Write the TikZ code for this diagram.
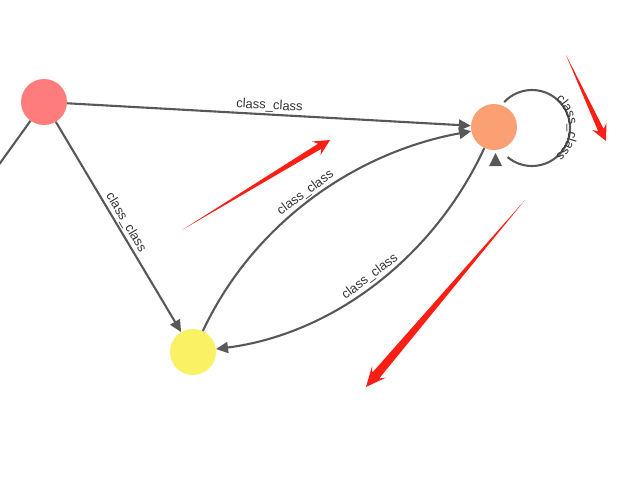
\documentclass[tikz,border=0pt]{standalone}
\usepackage{fontspec}
\setmainfont{Liberation Sans}
\usetikzlibrary{arrows.meta,calc,decorations.text}
\definecolor{edgec}{RGB}{88,88,88}
\definecolor{labc}{RGB}{51,51,51}
\definecolor{pinkc}{RGB}{255,124,124}
\definecolor{orangec}{RGB}{251,160,114}
\definecolor{yellowc}{RGB}{250,242,100}
\definecolor{annred}{RGB}{250,30,20}
\newcommand\labfont{\fontsize{13}{13}\selectfont}
% tail, tip, head length, notch length, head half width, body half width
\newcommand\taperarrow[6]{%
  \coordinate (tT) at #1;
  \coordinate (tH) at #2;
  \coordinate (tB) at ($(tH)!#3!(tT)$);
  \coordinate (tN) at ($(tH)!#4!(tT)$);
  \fill[annred] (tT) -- ($(tN)!#6!90:(tH)$) -- ($(tB)!#5!90:(tH)$) -- (tH)
    -- ($(tB)!#5!-90:(tH)$) -- ($(tN)!#6!-90:(tH)$) -- cycle;
}
\begin{document}
\begin{tikzpicture}[x=1pt,y=1pt,
  nodec/.style={circle, minimum size=46pt, inner sep=0pt, draw=none},
  edge/.style={draw=edgec, line width=2.1pt, -{Triangle[length=12pt,width=11pt]}},
  lab/.style={font=\labfont, text=labc, sloped, above, inner sep=1.5pt, midway}]
\path[use as bounding box] (0,0) rectangle (643,-480);
\clip (0,0) rectangle (643,-480);
\node[nodec, fill=pinkc] (A) at (44,-102) {};
\node[nodec, fill=orangec] (B) at (494,-127) {};
\node[nodec, fill=yellowc] (C) at (193,-352) {};
\coordinate (off) at (-20,-191);
\coordinate (Lc) at (532,-128);
\draw[edge] (A) -- node[lab]{class\_class} (B);
\draw[edge] (A) -- node[lab]{class\_class} (C);
\draw[edge, -] (A) -- (off);
\draw[edge] (C) .. controls (252,-226) and (352,-153) .. node[lab]{class\_class} (B);
\draw[edge] (B) .. controls (434,-257) and (333,-334) .. node[lab]{class\_class} (C);
\draw[draw=edgec, line width=2.1pt] (Lc) ++(137:38) arc[start angle=137, end angle=-130, radius=38];
\fill[edgec] (495.5,-153) -- (489,-166) -- (502,-166) -- cycle;
\path[decorate, decoration={text along path, text={|\labfont|class{\_}class}, text color=labc, text align=center, raise=-1pt}]
  (Lc) ++(60:38) arc[start angle=60, end angle=-60, radius=38];
\taperarrow{(182,-230)}{(330,-140)}{16pt}{12pt}{8pt}{3pt}
\taperarrow{(566,-55)}{(606,-141)}{16pt}{12pt}{8pt}{3pt}
\taperarrow{(525,-200)}{(366,-387)}{20pt}{15pt}{9pt}{4.5pt}
\end{tikzpicture}
\end{document}
